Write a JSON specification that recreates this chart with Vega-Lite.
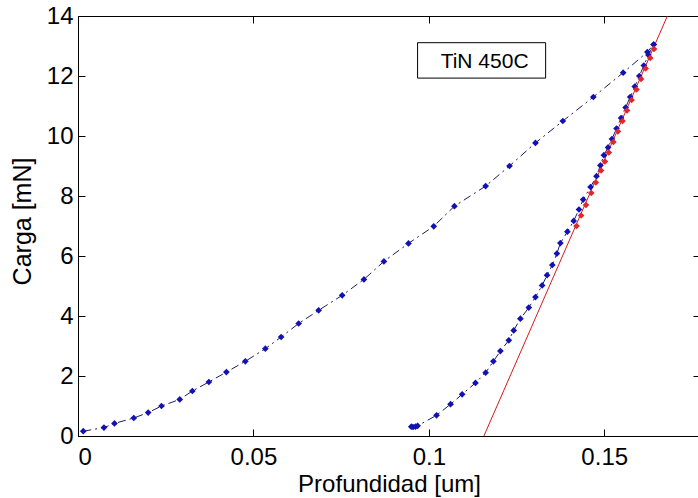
{
  "$schema": "https://vega.github.io/schema/vega-lite/v6.json",
  "width": 622,
  "height": 420,
  "autosize": {"type": "none"},
  "padding": {"left": 78, "top": 16, "right": 0, "bottom": 62},
  "background": "white",
  "config": {
    "view": {"stroke": "black", "strokeWidth": 1},
    "font": "Liberation Sans",
    "axis": {
      "labelFont": "Liberation Sans",
      "titleFont": "Liberation Sans",
      "labelColor": "black",
      "titleColor": "black",
      "domainColor": "black",
      "tickColor": "black",
      "grid": false,
      "titleFontWeight": "normal"
    }
  },
  "datasets": {
    "carga": [
      {"x": 0.0015, "y": 0.16},
      {"x": 0.0074, "y": 0.28},
      {"x": 0.0104, "y": 0.42},
      {"x": 0.0159, "y": 0.6},
      {"x": 0.02, "y": 0.78},
      {"x": 0.0238, "y": 1.0},
      {"x": 0.029, "y": 1.22},
      {"x": 0.0326, "y": 1.5},
      {"x": 0.0373, "y": 1.8},
      {"x": 0.0423, "y": 2.13},
      {"x": 0.0477, "y": 2.49},
      {"x": 0.0534, "y": 2.91},
      {"x": 0.0579, "y": 3.3},
      {"x": 0.0629, "y": 3.75},
      {"x": 0.0686, "y": 4.19},
      {"x": 0.0753, "y": 4.69},
      {"x": 0.0815, "y": 5.22},
      {"x": 0.0872, "y": 5.82},
      {"x": 0.0942, "y": 6.42},
      {"x": 0.1014, "y": 6.99},
      {"x": 0.1073, "y": 7.66},
      {"x": 0.1162, "y": 8.33},
      {"x": 0.123, "y": 9.0},
      {"x": 0.1304, "y": 9.77},
      {"x": 0.1382, "y": 10.5},
      {"x": 0.1469, "y": 11.3},
      {"x": 0.1554, "y": 12.11},
      {"x": 0.1623, "y": 12.8},
      {"x": 0.1641, "y": 13.05}
    ],
    "descarga": [
      {"x": 0.1641, "y": 13.05},
      {"x": 0.1626, "y": 12.7},
      {"x": 0.1613, "y": 12.35},
      {"x": 0.16, "y": 12.0},
      {"x": 0.1587, "y": 11.65},
      {"x": 0.1574, "y": 11.3},
      {"x": 0.1561, "y": 10.95},
      {"x": 0.1548, "y": 10.6},
      {"x": 0.1535, "y": 10.25},
      {"x": 0.1522, "y": 9.9},
      {"x": 0.1511, "y": 9.62},
      {"x": 0.1499, "y": 9.36},
      {"x": 0.1489, "y": 9.02},
      {"x": 0.1478, "y": 8.66},
      {"x": 0.1461, "y": 8.3},
      {"x": 0.144, "y": 7.88},
      {"x": 0.1428, "y": 7.55},
      {"x": 0.1413, "y": 7.17},
      {"x": 0.1395, "y": 6.81},
      {"x": 0.1375, "y": 6.43},
      {"x": 0.1365, "y": 6.08},
      {"x": 0.1352, "y": 5.7},
      {"x": 0.1337, "y": 5.36},
      {"x": 0.1323, "y": 5.02},
      {"x": 0.1304, "y": 4.63},
      {"x": 0.1285, "y": 4.28},
      {"x": 0.1261, "y": 3.91},
      {"x": 0.1242, "y": 3.52},
      {"x": 0.1228, "y": 3.19},
      {"x": 0.1204, "y": 2.83},
      {"x": 0.1184, "y": 2.49},
      {"x": 0.1162, "y": 2.11},
      {"x": 0.1133, "y": 1.77},
      {"x": 0.1095, "y": 1.39},
      {"x": 0.1062, "y": 1.06},
      {"x": 0.1022, "y": 0.69},
      {"x": 0.0968, "y": 0.34},
      {"x": 0.0962, "y": 0.31},
      {"x": 0.0955, "y": 0.3},
      {"x": 0.095, "y": 0.31}
    ],
    "ajuste": [
      {"x": 0.1421, "y": 7.0},
      {"x": 0.1434, "y": 7.35},
      {"x": 0.1448, "y": 7.7},
      {"x": 0.1463, "y": 8.1},
      {"x": 0.1476, "y": 8.45},
      {"x": 0.1491, "y": 8.85},
      {"x": 0.1502, "y": 9.15},
      {"x": 0.1513, "y": 9.45},
      {"x": 0.1526, "y": 9.8},
      {"x": 0.1539, "y": 10.15},
      {"x": 0.1552, "y": 10.5},
      {"x": 0.1565, "y": 10.85},
      {"x": 0.1578, "y": 11.2},
      {"x": 0.1592, "y": 11.55},
      {"x": 0.1605, "y": 11.9},
      {"x": 0.1618, "y": 12.25},
      {"x": 0.1631, "y": 12.6},
      {"x": 0.1642, "y": 12.9}
    ],
    "recta": [
      {"x": 0.1157, "y": 0},
      {"x": 0.168, "y": 14}
    ]
  },
  "resolve": {"axis": {"x": "independent", "y": "independent"}},
  "layer": [
    {
      "data": {"name": "carga"},
      "mark": {"type": "line", "color": "#1c1c60", "strokeWidth": 1, "strokeDash": [8, 4, 2, 4]},
      "encoding": {
        "x": {"field": "x", "type": "quantitative", "scale": {"domain": [0, 0.1773], "nice": false, "zero": false},
          "axis": {"orient": "bottom", "values": [0, 0.05, 0.1, 0.15], "format": "~g", "labelFontSize": 24, "tickSize": -7, "labelPadding": 16,
            "title": "Profundidad [um]", "titleFontSize": 24, "titlePadding": 3}},
        "y": {"field": "y", "type": "quantitative", "scale": {"domain": [0, 14], "nice": false},
          "axis": {"orient": "left", "values": [0, 2, 4, 6, 8, 10, 12, 14], "labelFontSize": 24, "tickSize": -7, "labelPadding": 12,
            "title": "Carga [mN]", "titleFontSize": 25, "titleX": -56, "titleY": 205, "titleAngle": -90, "titleBaseline": "middle", "titleAlign": "center"}}
      }
    },
    {
      "data": {"name": "descarga"},
      "mark": {"type": "line", "color": "#1c1c60", "strokeWidth": 1, "strokeDash": [8, 4, 2, 4]},
      "encoding": {
        "x": {"field": "x", "type": "quantitative", "axis": null},
        "y": {"field": "y", "type": "quantitative", "axis": null}
      }
    },
    {
      "data": {"name": "recta"},
      "mark": {"type": "line", "color": "#d41a1a", "strokeWidth": 1, "clip": true},
      "encoding": {
        "x": {"field": "x", "type": "quantitative",
          "axis": {"orient": "top", "values": [0, 0.05, 0.1, 0.15], "labels": false, "domain": false, "tickSize": -7, "title": null}},
        "y": {"field": "y", "type": "quantitative",
          "axis": {"orient": "right", "values": [0, 2, 4, 6, 8, 10, 12, 14], "labels": false, "domain": false, "tickSize": -7, "title": null}}
      }
    },
    {
      "data": {"name": "carga"},
      "mark": {"type": "point", "shape": "diamond", "filled": true, "color": "#1212b4", "size": 45, "opacity": 1},
      "encoding": {
        "x": {"field": "x", "type": "quantitative", "axis": null},
        "y": {"field": "y", "type": "quantitative", "axis": null}
      }
    },
    {
      "data": {"name": "descarga"},
      "mark": {"type": "point", "shape": "diamond", "filled": true, "color": "#1212b4", "size": 45, "opacity": 1},
      "encoding": {
        "x": {"field": "x", "type": "quantitative", "axis": null},
        "y": {"field": "y", "type": "quantitative", "axis": null}
      }
    },
    {
      "data": {"name": "ajuste"},
      "mark": {"type": "point", "shape": "diamond", "filled": true, "color": "#e0282a", "size": 45, "opacity": 1},
      "encoding": {
        "x": {"field": "x", "type": "quantitative", "axis": null},
        "y": {"field": "y", "type": "quantitative", "axis": null}
      }
    },
    {
      "data": {"values": [{"etiqueta": "TiN 450C"}]},
      "mark": {"type": "rect", "fill": "white", "stroke": "black", "strokeWidth": 1},
      "encoding": {
        "x": {"datum": 0.0968, "type": "quantitative", "axis": null},
        "x2": {"datum": 0.1333},
        "y": {"datum": 13.11, "type": "quantitative", "axis": null},
        "y2": {"datum": 11.93}
      }
    },
    {
      "data": {"values": [{"etiqueta": "TiN 450C"}]},
      "mark": {"type": "text", "font": "Liberation Sans", "fontSize": 21, "color": "black", "align": "center", "baseline": "middle"},
      "encoding": {
        "text": {"field": "etiqueta"},
        "x": {"datum": 0.1159, "type": "quantitative", "axis": null},
        "y": {"datum": 12.48, "type": "quantitative", "axis": null}
      }
    }
  ]
}
